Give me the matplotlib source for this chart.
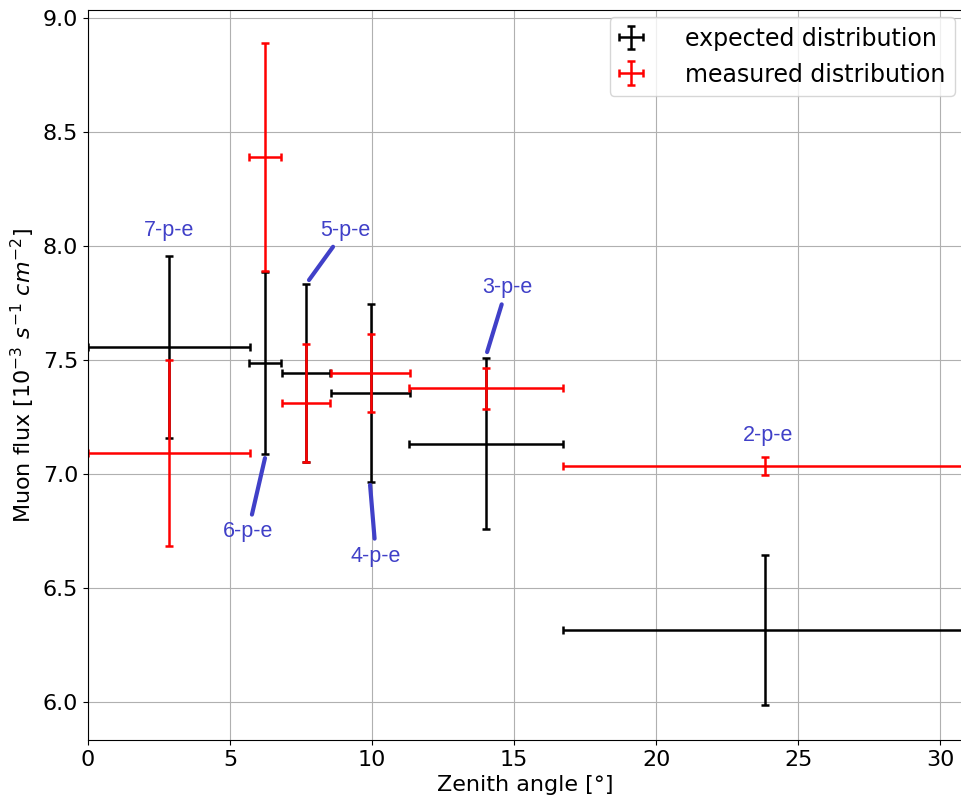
import numpy as np
from matplotlib import pyplot as plt

# bin centres and half-widths (deg)
zenith = [2.85, 6.23, 7.68, 9.96, 14.01, 23.84]
zenith_err = [2.85, 0.56, 0.85, 1.39, 2.71, 7.12]

expected = [7.557, 7.487, 7.443, 7.355, 7.132, 6.316]
expected_err = [0.40, 0.40, 0.39, 0.39, 0.375, 0.33]

measured = [7.092, 8.390, 7.311, 7.443, 7.377, 7.035]
measured_err = [0.41, 0.50, 0.26, 0.17, 0.09, 0.04]

labels = ['7-p-e', '6-p-e', '5-p-e', '4-p-e', '3-p-e', '2-p-e']
label_pos = [(2.85, 8.07), (5.63, 6.746), (9.05, 8.07), (10.14, 6.64), (14.75, 7.82), (23.94, 7.167)]
arrow_to = [None, (6.23, 7.07), (7.78, 7.851), (9.93, 6.952), (14.05, 7.535), None]

blue = '#4040c8'
lab_font = ['Liberation Sans Narrow', 'Liberation Sans', 'DejaVu Sans']

fig = plt.figure(figsize=(9.62, 8.02), dpi=100)
ax = fig.add_axes([0.0915, 0.0773, 0.9085, 0.910])

ax.errorbar(zenith, expected, xerr=zenith_err, yerr=expected_err, fmt='none',
            ecolor='black', elinewidth=1.8, capsize=3, capthick=1.8,
            label='expected distribution')
ax.errorbar(zenith, measured, xerr=zenith_err, yerr=measured_err, fmt='none',
            ecolor='red', elinewidth=1.8, capsize=3, capthick=1.8,
            label='measured distribution')

for lab, pos, tgt in zip(labels, label_pos, arrow_to):
    if tgt is None:
        ax.text(pos[0], pos[1], lab, color=blue, fontsize=15.5, ha='center', va='center',
                family=lab_font)
    else:
        ax.annotate(lab, xy=tgt, xytext=pos, color=blue, fontsize=15.5,
                    ha='center', va='center', family=lab_font,
                    arrowprops=dict(arrowstyle='-', color=blue, lw=3,
                                    shrinkA=3, shrinkB=0))

ax.set_xlim(0, 30.77)
ax.set_ylim(5.833, 9.035)
ax.spines['right'].set_visible(False)
ax.grid(True)
ax.tick_params(axis='both', which='major', labelsize=16)
ax.set_xlabel('Zenith angle [°]', fontsize=16)
ax.set_ylabel(r'Muon flux [$10^{-3}\ s^{-1}\ cm^{-2}$]', fontsize=16)
ax.legend(loc='upper right', fontsize=17, handlelength=1.0, handletextpad=1.8,
          borderaxespad=0.3)

fig.savefig('out.png', dpi=100)
